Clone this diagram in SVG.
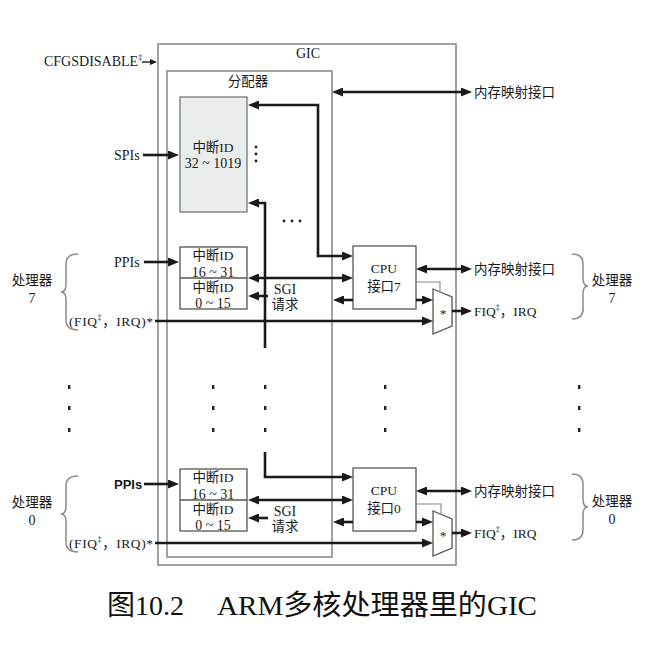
<svg xmlns="http://www.w3.org/2000/svg" width="663" height="658" viewBox="0 0 663 658">
<defs>
<marker id="ah" markerUnits="userSpaceOnUse" markerWidth="11" markerHeight="9" refX="3" refY="4.5" orient="auto-start-reverse" viewBox="0 0 11 9">
<path d="M0,0 L11,4.5 L0,9 z" fill="#1a1a1a"/>
</marker>
<marker id="ahs" markerUnits="userSpaceOnUse" markerWidth="7" markerHeight="6" refX="2" refY="3" orient="auto" viewBox="0 0 7 6">
<path d="M0,0 L7,3 L0,6 z" fill="#1a1a1a"/>
</marker>
<style>
.t{font-family:"Liberation Serif","Noto Sans CJK SC",serif;font-size:13.5px;fill:#1a1a1a}
.l{font-size:14px}
.c{text-anchor:middle}
.box{fill:#fff;stroke:#555;stroke-width:1.3}
.frame{fill:none;stroke:#8a8a8a;stroke-width:1.6}
.w{fill:none;stroke:#1a1a1a;stroke-width:2.6}
.a{marker-end:url(#ah)}
.b{marker-start:url(#ah);marker-end:url(#ah)}
.s{marker-start:url(#ah)}
.thin{fill:none;stroke:#888;stroke-width:1.1}
.brace{fill:none;stroke:#8a8a8a;stroke-width:1.5}
.dot{fill:#222}
</style>
</defs>
<rect width="663" height="658" fill="#fff"/>

<g id="gic">
<rect class="frame" x="158" y="44" width="298" height="521"/>
<text class="t l c" x="308" y="58">GIC</text>
</g>
<g id="distributor">
<rect class="frame" x="167" y="71" width="165" height="486"/>
<text class="t c" x="248" y="86">分配器</text>
</g>

<g id="cfgsdisable">
<text class="t l" x="44" y="66">CFGSDISABLE<tspan font-size="8" dy="-6">‡</tspan></text>
</g>

<g id="spi-box">
<rect x="180" y="97" width="67" height="115" fill="#e9edec" stroke="#777" stroke-width="1.3"/>
<text class="t c" x="213" y="152">中断ID</text>
<text class="t l c" x="213" y="168">32 ~ 1019</text>
</g>
<g id="spis"><text class="t l" x="114" y="160">SPIs</text></g>

<g id="ppi7">
<rect class="box" x="180" y="247" width="67" height="62"/>
<line x1="180" y1="278" x2="247" y2="278" stroke="#555" stroke-width="1.3"/>
<text class="t c" x="213" y="260">中断ID</text>
<text class="t l c" x="213" y="277">16 ~ 31</text>
<text class="t c" x="213" y="292">中断ID</text>
<text class="t l c" x="213" y="308">0 ~ 15</text>
</g>
<g id="ppis7"><text class="t l" x="114" y="267">PPIs</text></g>
<g id="sgi7">
<text class="t l c" x="285" y="294">SGI</text>
<text class="t c" x="285" y="309">请求</text>
</g>
<g id="cpu7">
<rect class="box" x="353" y="246" width="63" height="63"/>
<text class="t c" x="384" y="273">CPU</text>
<text class="t c" x="384" y="291">接口7</text>
</g>
<g id="mux7">
<polygon points="433,289 452,297 452,326 433,334" fill="#fff" stroke="#555" stroke-width="1.3"/>
<text class="t c" x="443" y="318" font-size="11">*</text>
</g>

<g id="ppi0">
<rect class="box" x="180" y="469" width="67" height="62"/>
<line x1="180" y1="500" x2="247" y2="500" stroke="#555" stroke-width="1.3"/>
<text class="t c" x="213" y="482">中断ID</text>
<text class="t l c" x="213" y="499">16 ~ 31</text>
<text class="t c" x="213" y="514">中断ID</text>
<text class="t l c" x="213" y="530">0 ~ 15</text>
</g>
<g id="ppis0"><text x="114" y="489" font-family="Liberation Sans,Arial,sans-serif" font-weight="bold" font-size="13" fill="#1a1a1a">PPIs</text></g>
<g id="sgi0">
<text class="t l c" x="285" y="516">SGI</text>
<text class="t c" x="285" y="531">请求</text>
</g>
<g id="cpu0">
<rect class="box" x="353" y="468" width="63" height="63"/>
<text class="t c" x="384" y="495">CPU</text>
<text class="t c" x="384" y="513">接口0</text>
</g>
<g id="mux0">
<polygon points="433,511 452,519 452,548 433,556" fill="#fff" stroke="#555" stroke-width="1.3"/>
<text class="t c" x="443" y="540" font-size="11">*</text>
</g>

<g id="labels-right">
<text class="t" x="474" y="97">内存映射接口</text>
<text class="t" x="474" y="274">内存映射接口</text>
<text class="t" x="474" y="316">FIQ<tspan font-size="8" dy="-6">‡</tspan><tspan dy="6">，IRQ</tspan></text>
<text class="t" x="474" y="496">内存映射接口</text>
<text class="t" x="474" y="538">FIQ<tspan font-size="8" dy="-6">‡</tspan><tspan dy="6">，IRQ</tspan></text>
</g>

<g id="proc7-left">
<path class="brace" d="M78,254 Q66,254 66,264 L66,284 Q66,292 61,292 Q66,292 66,300 L66,320 Q66,330 78,330"/>
<text class="t c" x="32" y="285">处理器</text>
<text class="t l c" x="32" y="303">7</text>
<text class="t" x="69" y="326" textLength="84" lengthAdjust="spacing">(FIQ<tspan font-size="8" dy="-6">‡</tspan><tspan dy="6">，IRQ)*</tspan></text>
</g>
<g id="proc0-left">
<path class="brace" d="M78,476 Q66,476 66,486 L66,506 Q66,514 61,514 Q66,514 66,522 L66,542 Q66,552 78,552"/>
<text class="t c" x="32" y="507">处理器</text>
<text class="t l c" x="32" y="525">0</text>
<text class="t" x="69" y="548" textLength="84" lengthAdjust="spacing">(FIQ<tspan font-size="8" dy="-6">‡</tspan><tspan dy="6">，IRQ)*</tspan></text>
</g>
<g id="proc7-right">
<path class="brace" d="M572,254 Q583,254 583,264 L583,278 Q583,286 588,286 Q583,286 583,294 L583,309 Q583,319 572,319"/>
<text class="t c" x="612" y="285">处理器</text>
<text class="t l c" x="612" y="303">7</text>
</g>
<g id="proc0-right">
<path class="brace" d="M572,474 Q583,474 583,484 L583,499 Q583,507 588,507 Q583,507 583,515 L583,530 Q583,540 572,540"/>
<text class="t c" x="612" y="506">处理器</text>
<text class="t l c" x="612" y="524">0</text>
</g>

<g id="dots">
<circle class="dot" cx="256" cy="147" r="1.4"/>
<circle class="dot" cx="256" cy="154" r="1.4"/>
<circle class="dot" cx="256" cy="161" r="1.4"/>
<circle class="dot" cx="284" cy="221" r="1.4"/>
<circle class="dot" cx="292" cy="221" r="1.4"/>
<circle class="dot" cx="300" cy="221" r="1.4"/>
<rect class="dot" x="68" y="385" width="2.4" height="4"/>
<rect class="dot" x="68" y="406" width="2.4" height="4"/>
<rect class="dot" x="68" y="428" width="2.4" height="4"/>
<rect class="dot" x="212" y="385" width="2.4" height="4"/>
<rect class="dot" x="212" y="406" width="2.4" height="4"/>
<rect class="dot" x="212" y="428" width="2.4" height="4"/>
<rect class="dot" x="264" y="385" width="2.4" height="4"/>
<rect class="dot" x="264" y="406" width="2.4" height="4"/>
<rect class="dot" x="264" y="428" width="2.4" height="4"/>
<rect class="dot" x="384" y="385" width="2.4" height="4"/>
<rect class="dot" x="384" y="406" width="2.4" height="4"/>
<rect class="dot" x="384" y="428" width="2.4" height="4"/>
<rect class="dot" x="578" y="385" width="2.4" height="4"/>
<rect class="dot" x="578" y="406" width="2.4" height="4"/>
<rect class="dot" x="578" y="428" width="2.4" height="4"/>
</g>

<g id="connectors">
<path d="M142,62 H152" fill="none" stroke="#1a1a1a" stroke-width="1.4" marker-end="url(#ahs)"/>
<path class="w a" d="M143,155 H171"/>
<path class="w b" d="M340,92 H464"/>
<path class="w b" d="M256,105 H318 V256 H345"/>
<path class="w s" d="M256,203 H265 V348"/>
<path class="w a" d="M144,262 H171"/>
<path class="w b" d="M256,278 H345"/>
<path class="w a" d="M268,296 H256"/>
<path class="w a" d="M353,300 H341"/>
<path class="w a" d="M416,300 H425"/>
<path class="w a" d="M155,321 H425"/>
<path class="w a" d="M452,311 H464"/>
<path class="w b" d="M424,269 H464"/>
<path class="thin" d="M416,282 H440 V292"/>

<path class="w a" d="M144,484 H171"/>
<path class="w a" d="M265,452 V477 H345"/>
<path class="w b" d="M256,500 H345"/>
<path class="w a" d="M268,518 H256"/>
<path class="w a" d="M353,522 H341"/>
<path class="w a" d="M416,522 H425"/>
<path class="w a" d="M155,543 H425"/>
<path class="w a" d="M452,533 H464"/>
<path class="w b" d="M424,491 H464"/>
<path class="thin" d="M416,504 H441 V514"/>
</g>

<g id="caption">
<text x="107" y="615" font-family="Liberation Serif,Noto Sans CJK SC,serif" font-size="28" fill="#111" textLength="77" lengthAdjust="spacingAndGlyphs">图10.2</text>
<text x="217" y="615" font-family="Liberation Serif,Noto Sans CJK SC,serif" font-size="28" fill="#111" textLength="320" lengthAdjust="spacingAndGlyphs">ARM多核处理器里的GIC</text>
</g>
</svg>
